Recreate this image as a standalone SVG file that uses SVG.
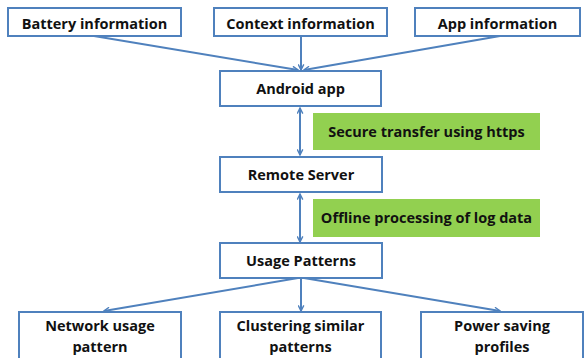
<svg xmlns="http://www.w3.org/2000/svg" width="585" height="358" viewBox="0 0 585 358">
<defs>
<style>
.box{fill:#fff;stroke:#4F81BD;stroke-width:2}
.lbl{fill:#92D050;stroke:none}
.t{font-family:"Open Sans","Liberation Sans",sans-serif;font-weight:bold;font-size:14.5px;fill:#111;text-anchor:middle}
.c{stroke:#4F81BD;stroke-width:2;fill:none}
</style>
<marker id="ah" viewBox="0 0 10 10" refX="9" refY="5" markerWidth="7" markerHeight="7" orient="auto-start-reverse" markerUnits="userSpaceOnUse">
<path d="M1,1 L9,5 L1,9" fill="none" stroke="#4F81BD" stroke-width="2"/>
</marker>
</defs>
<rect width="585" height="358" fill="#fff"/>
<g id="connectors">
<line class="c" x1="94" y1="36" x2="298" y2="70" marker-end="url(#ah)"/>
<line class="c" x1="301" y1="36" x2="301" y2="70" marker-end="url(#ah)"/>
<line class="c" x1="500" y1="36" x2="304" y2="70" marker-end="url(#ah)"/>
<line class="c" x1="300" y1="108" x2="300" y2="155" marker-start="url(#ah)" marker-end="url(#ah)"/>
<line class="c" x1="300" y1="194" x2="300" y2="242" marker-start="url(#ah)" marker-end="url(#ah)"/>
<line class="c" x1="298" y1="278" x2="104" y2="311" marker-end="url(#ah)"/>
<line class="c" x1="301" y1="278" x2="301" y2="311" marker-end="url(#ah)"/>
<line class="c" x1="304" y1="278" x2="500" y2="311" marker-end="url(#ah)"/>
</g>
<g id="battery"><rect class="box" x="8" y="8" width="173" height="28"/><text class="t" x="94.5" y="28.5">Battery information</text></g>
<g id="context"><rect class="box" x="214" y="8" width="173" height="28"/><text class="t" x="300.5" y="28.5">Context information</text></g>
<g id="appinfo"><rect class="box" x="415" y="8" width="165" height="28"/><text class="t" x="497.5" y="28.5">App information</text></g>
<g id="android"><rect class="box" x="220" y="71" width="161" height="35"/><text class="t" x="300.5" y="93.5">Android app</text></g>
<g id="secure"><rect class="lbl" x="313" y="113" width="227" height="37"/><text class="t" x="426.5" y="136.5">Secure transfer using https</text></g>
<g id="server"><rect class="box" x="220" y="157" width="162" height="35"/><text class="t" x="301" y="180">Remote Server</text></g>
<g id="offline"><rect class="lbl" x="313" y="199" width="227" height="38"/><text class="t" x="426.5" y="223">Offline processing of log data</text></g>
<g id="usage"><rect class="box" x="220" y="243" width="162" height="35"/><text class="t" x="301" y="266">Usage Patterns</text></g>
<g id="network"><rect class="box" x="19" y="312" width="162" height="50"/><text class="t" x="100" y="331">Network usage</text><text class="t" x="100" y="352">pattern</text></g>
<g id="clustering"><rect class="box" x="220" y="312" width="161" height="50"/><text class="t" x="300.5" y="331">Clustering similar</text><text class="t" x="300.5" y="352">patterns</text></g>
<g id="power"><rect class="box" x="421" y="312" width="162" height="50"/><text class="t" x="502" y="331">Power saving</text><text class="t" x="502" y="352">profiles</text></g>
</svg>
